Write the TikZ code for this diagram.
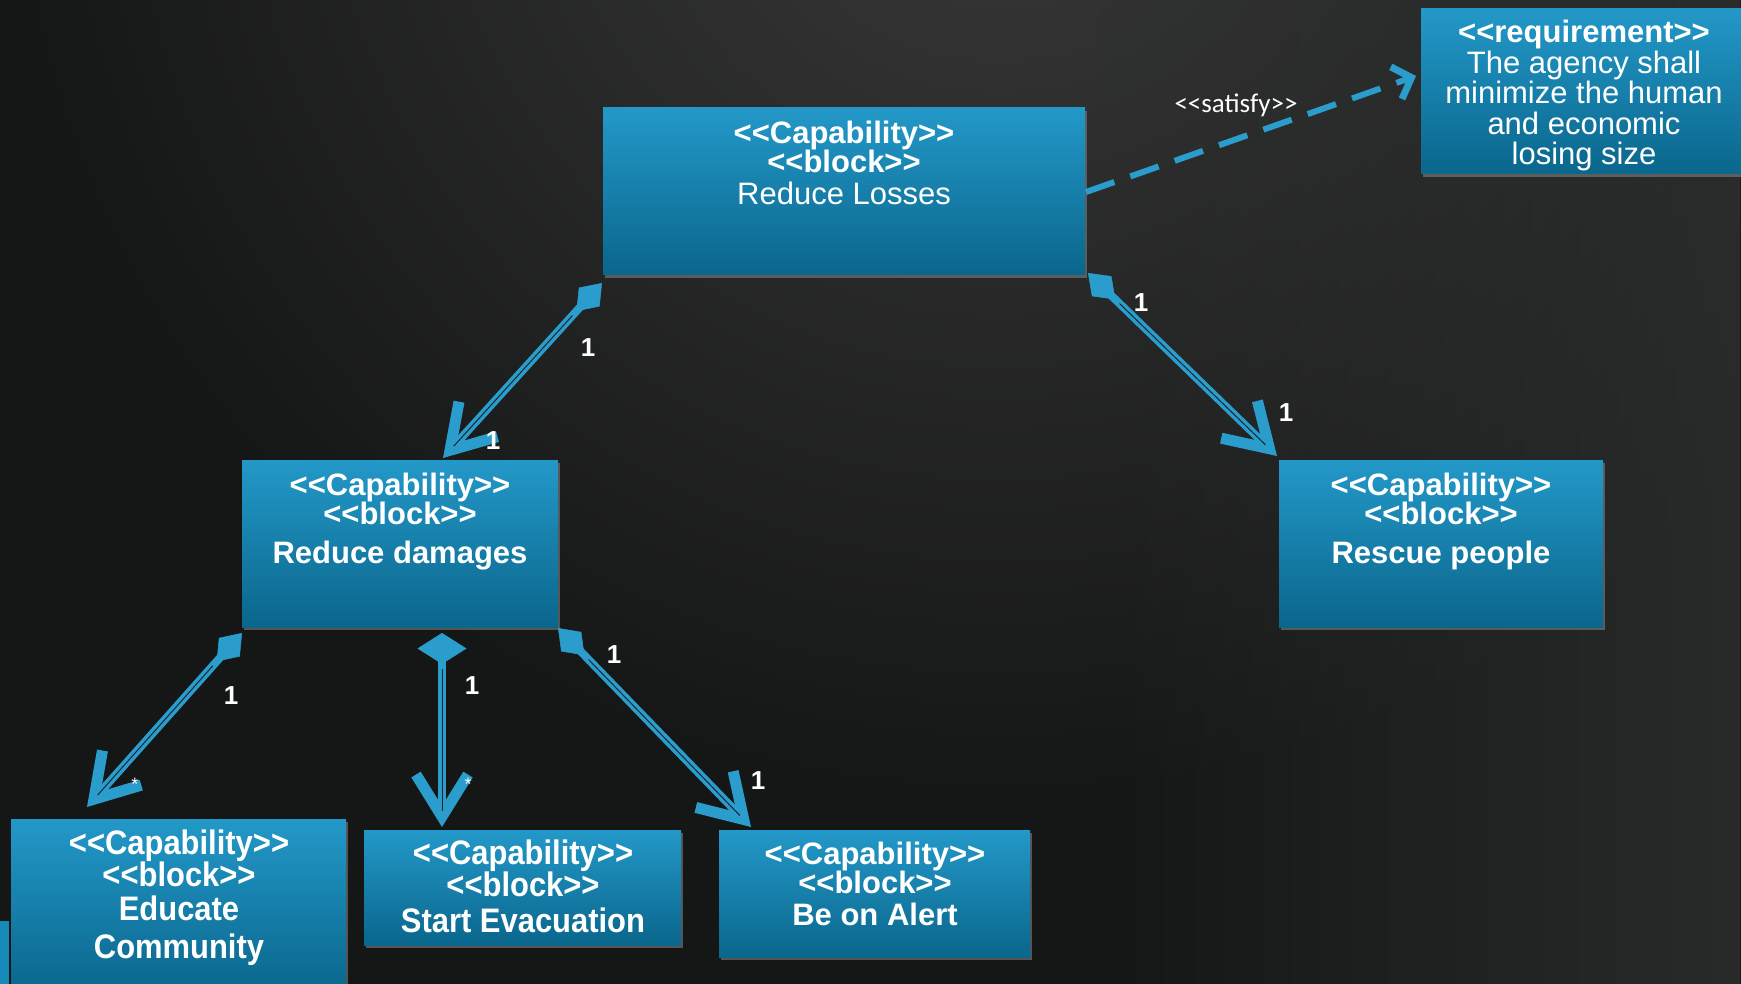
\documentclass[tikz,border=0pt]{standalone}
\usepackage{fontspec}
\setmainfont{Liberation Sans}
\newfontfamily\tallfont[FakeStretch=0.91]{Liberation Sans}
\newfontfamily\calfont{Carlito}
\usetikzlibrary{arrows.meta,shadows,fadings,calc}

% guillemet-free double angle brackets
\newcommand\ltlt{<\kern0pt<}
\newcommand\gtgt{>\kern0pt>}
% fixed line pitch, lines may touch
\newcommand\tightlines{\lineskiplimit=-100pt\lineskip=0pt}

\definecolor{bgglow}{HTML}{3A3A3A}
\definecolor{bgdark}{HTML}{151616}
\definecolor{bgright}{HTML}{2E3030}
\definecolor{boxtop}{HTML}{2398C8}
\definecolor{boxmid}{HTML}{178AB9}
\definecolor{boxbot}{HTML}{0A668C}
\definecolor{wire}{HTML}{2A9DCD}
\definecolor{wirecore}{HTML}{17252D}

\begin{document}
\begin{tikzpicture}[x=1pt,y=-1pt,
  capbox/.style={rectangle, inner sep=0pt, outer sep=0pt,
    top color=boxtop, middle color=boxmid, bottom color=boxbot,
    drop shadow={opacity=0.6, shadow xshift=2pt, shadow yshift=-3pt}},
  txt/.style={text=white, inner sep=0pt, align=center, anchor=north},
  stdtxt/.style={txt, font=\bfseries\fontsize{31}{29}\selectfont\tightlines},
  tlltxt/.style={txt, font=\tallfont\bfseries\fontsize{34}{32}\selectfont\tightlines},
  mult/.style={text=white, inner sep=0pt, font=\bfseries\fontsize{26}{26}\selectfont},
  star/.style={text=white, inner sep=0pt, font=\fontsize{18}{18}\selectfont},
  assoc/.style={draw=wire, line width=8pt,
    {Diamond[length=38pt,width=28pt,line width'=0.5pt]}-{Straight Barb[length=42pt,width=52pt,line width'=11pt]},
    postaction={draw=wirecore, line width=1pt, -, shorten <=44pt, shorten >=16pt}},
  vassoc/.style={assoc,
    {Diamond[length=31pt,width=49pt,line width'=0.5pt]}-{Straight Barb[length=42pt,width=52pt,line width'=11pt]},
    postaction={draw=wirecore, line width=1pt, -, shorten <=36pt, shorten >=16pt}},
  satisfy/.style={draw=wire, line width=6pt, dash pattern=on 30pt off 17pt,
    -{Straight Barb[length=16pt,width=34pt,line width'=7pt]}}
]
\useasboundingbox (0,0) rectangle (1741,984);
\begin{scope}
\clip (0,0) rectangle (1741,984);

% backdrop: dark base, soft glow upper middle, lighter right edge
\fill[bgdark] (0,0) rectangle (1741,984);
\shade[inner color=bgglow, outer color=bgdark] (1000,-200) circle (1000pt);
\fill[bgright, path fading=west, opacity=0.8] (1100,0) rectangle (1741,984);

% capability blocks
\node[capbox, minimum width=482pt, minimum height=167pt] (RL) at (844,191.5) {};
\node[capbox, minimum width=330pt, minimum height=165pt] (REQ) at (1586,91.5) {};
\node[capbox, minimum width=316pt, minimum height=167pt] (RD) at (400,543.5) {};
\node[capbox, minimum width=324pt, minimum height=167pt] (RP) at (1441,543.5) {};
\node[capbox, minimum width=335pt, minimum height=175pt] (EC) at (178.5,906.5) {};
\node[capbox, minimum width=317pt, minimum height=115pt] (SE) at (522.5,887.5) {};
\node[capbox, minimum width=311pt, minimum height=127pt] (BA) at (874.5,893.5) {};
\fill[boxmid] (0,921) rectangle (9,984);

% block texts
\node[stdtxt] (RLt) at (844,121)
  {\ltlt Capability\gtgt\\\ltlt block\gtgt\\[3pt]\mdseries Reduce Losses};
\node[txt, font=\fontsize{31}{30.5}\selectfont\tightlines] (REQt) at (1584,20)
  {\bfseries\ltlt requirement\gtgt\\The agency shall\\minimize the human\\and economic\\losing size};
\node[stdtxt] (RDt) at (400,473)
  {\ltlt Capability\gtgt\\\ltlt block\gtgt\\[10pt]Reduce damages};
\node[stdtxt] (RPt) at (1441,473)
  {\ltlt Capability\gtgt\\\ltlt block\gtgt\\[10pt]Rescue people};
\node[tlltxt] (ECt) at (179,830)
  {\ltlt Capability\gtgt\\\ltlt block\gtgt\\[2pt]Educate\\[6pt]Community};
\node[tlltxt] (SEt) at (523,840)
  {\ltlt Capability\gtgt\\\ltlt block\gtgt\\[4pt]Start Evacuation};
\node[stdtxt] (BAt) at (875,842)
  {\ltlt Capability\gtgt\\\ltlt block\gtgt\\[3pt]Be on Alert};

% composition connectors
\draw[assoc] ($(RL.south west)+(-1,8)$) -- ($(RD.north)+(43,-2)$);
\draw[assoc] ($(RL.south east)+(3,-2)$) -- ($(RP.north west)+(-2,-4)$);
\draw[assoc] ($(RD.south west)+(0,6)$) -- ($(EC.north west)+(76,-12)$);
\draw[vassoc] ($(RD.south)+(42,6)$) -- ($(SE.north)+(-80.5,-3)$);
\draw[assoc] ($(RD.south east)+(0,1)$) -- ($(BA.north west)+(32,-3)$);

% satisfy dependency
\coordinate (satA) at ($(RL.east)+(1,0.5)$);
\coordinate (satB) at ($(REQ.west)+(-5,-15.5)$);
\draw[satisfy] (satA) -- (satB);
\node[text=white, inner sep=0pt, font=\calfont\fontsize{27}{27}\selectfont] (satl) at (1236,105) {\ltlt satisfy\gtgt};

% multiplicities
\node[mult] (m1) at (588,348) {1};
\node[mult] (m2) at (493,441) {1};
\node[mult] (m3) at (1141,303) {1};
\node[mult] (m4) at (1286,413) {1};
\node[mult] (m5) at (231,696) {1};
\node[star] (m6) at (135,784) {*};
\node[mult] (m7) at (472,686) {1};
\node[star] (m8) at (468,784) {*};
\node[mult] (m9) at (614,655) {1};
\node[mult] (m10) at (758,781) {1};
\end{scope}
\end{tikzpicture}
\end{document}
